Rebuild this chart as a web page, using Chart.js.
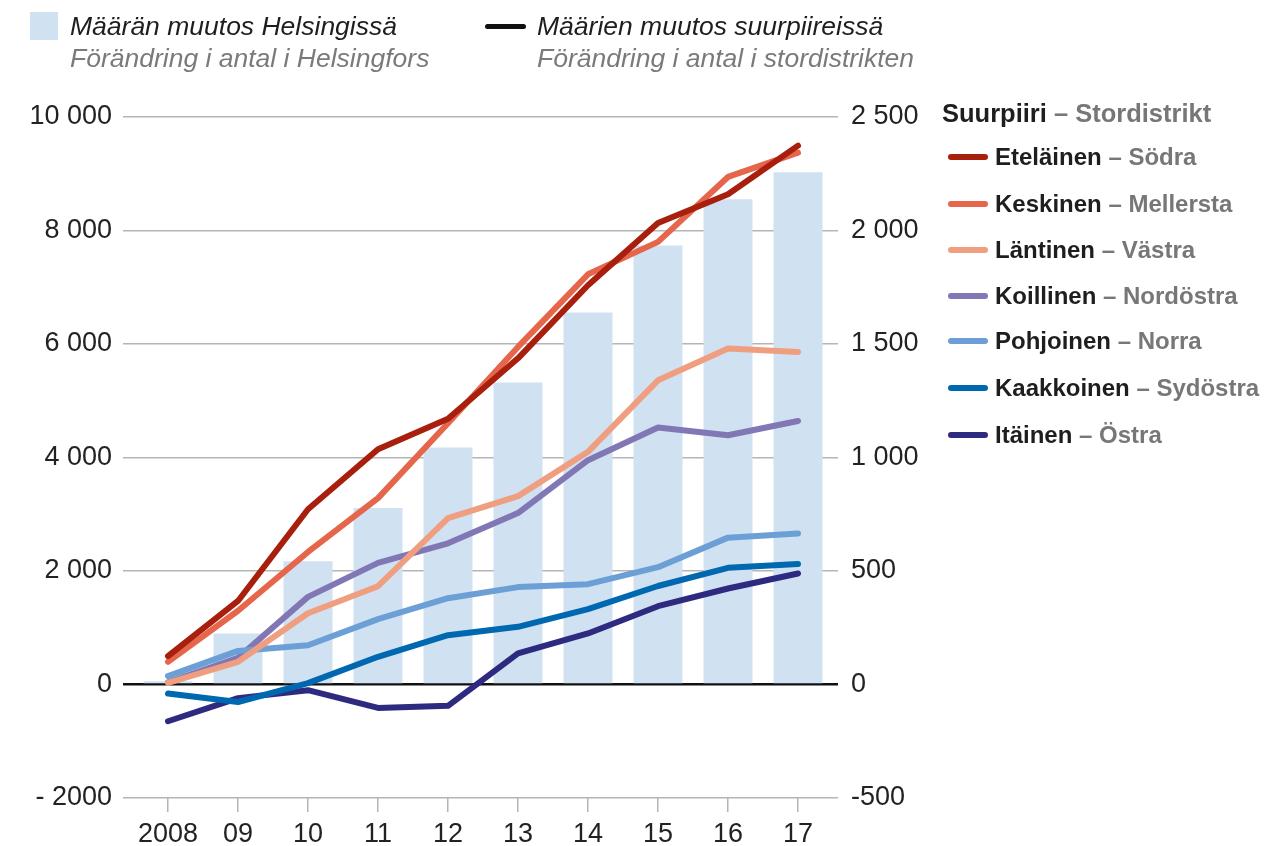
<!DOCTYPE html>
<html><head><meta charset="utf-8">
<script src="https://cdn.jsdelivr.net/npm/chart.js@4.4.1/dist/chart.umd.min.js"></script>
<style>
body{margin:0;background:#fff;font-family:"Liberation Sans",Arial,sans-serif;}
#wrap{position:relative;width:1265px;height:846px;overflow:hidden;}
#c{position:absolute;left:0;top:0;}
.top{position:absolute;font-style:italic;font-size:26.5px;line-height:32px;white-space:nowrap;}
.l1{color:#1e1e1e}
.l2{color:#7a7a7a}
.swbox{position:absolute;left:30px;top:12px;width:28px;height:28px;background:#d0e1f2;}
.swline{position:absolute;left:485px;top:24px;width:41px;height:5px;background:#111;border-radius:3px;}
.rl{position:absolute;font-size:24px;font-weight:bold;white-space:nowrap;line-height:30px;color:#1e1e1e;}
.hdr{font-size:25.5px;}
.g{color:#777}
.rsw{position:absolute;left:948px;width:40px;height:6px;border-radius:3px;}
</style>
</head><body>
<div id="wrap">
<canvas id="c" width="1265" height="846"></canvas>
<div class="swbox"></div>
<div class="top" style="left:70px;top:10px;"><div class="l1">Määrän muutos Helsingissä</div><div class="l2">Förändring i antal i Helsingfors</div></div>
<div class="swline"></div>
<div class="top" style="left:537px;top:10px;"><div class="l1">Määrien muutos suurpiireissä</div><div class="l2">Förändring i antal i stordistrikten</div></div>
<div class="rl hdr" style="left:942px;top:98px;">Suurpiiri <span class="g">– Stordistrikt</span></div>
<div id="rlegend"></div>
</div>
<script>
const categories = ['2008','09','10','11','12','13','14','15','16','17'];
const helsinki   = [58, 899, 2173, 3112, 4176, 5321, 6555, 7735, 8551, 9027];
const etelainen  = [125, 368, 772, 1036, 1171, 1437, 1759, 2033, 2160, 2374];
const keskinen   = [100, 325, 584, 821, 1151, 1487, 1807, 1950, 2236, 2343];
const lantinen   = [7, 100, 314, 433, 733, 830, 1025, 1340, 1480, 1465];
const koillinen  = [10, 118, 386, 536, 622, 755, 988, 1132, 1098, 1161];
const pohjoinen  = [37, 148, 173, 288, 380, 429, 442, 517, 647, 665];
const kaakkoinen = [-40, -77, 6, 122, 217, 254, 332, 434, 514, 531];
const itainen    = [-162, -60, -25, -103, -94, 137, 225, 345, 423, 489];
const leftTicks  = ['- 2000','0','2 000','4 000','6 000','8 000','10 000'];
const rightTicks = ['-500','0','500','1 000','1 500','2 000','2 500'];
const namesFi = ['Eteläinen','Keskinen','Läntinen','Koillinen','Pohjoinen','Kaakkoinen','Itäinen'];
const namesSv = ['Södra','Mellersta','Västra','Nordöstra','Norra','Sydöstra','Östra'];
const colors = ['#a8200d','#e5664a','#f09e80','#8277b5','#6c9fd6','#0068b1','#2e2a80'];
const series = [etelainen, keskinen, lantinen, koillinen, pohjoinen, kaakkoinen, itainen];
const drawOrder = [1,2,3,5,4,6,7];

const rl = document.getElementById('rlegend');
const legendY = [157, 203.5, 249.5, 295.5, 341, 388, 435];
namesFi.forEach((n,i)=>{
  const sw = document.createElement('div');
  sw.className='rsw'; sw.style.top=(legendY[i]-3)+'px'; sw.style.background=colors[i];
  rl.appendChild(sw);
  const t = document.createElement('div');
  t.className='rl'; t.style.left='995px'; t.style.top=(legendY[i]-15)+'px';
  t.innerHTML = n + ' <span class="g">– ' + namesSv[i] + '</span>';
  rl.appendChild(t);
});

const tickFont = {family:'"Liberation Sans", Arial, sans-serif', size:27};
const gridGray = '#b5b5b5';

const datasets = [{
  type:'bar', label:'Helsinki', data: helsinki, yAxisID:'yL',
  backgroundColor:'#d0e1f2', borderWidth:0, categoryPercentage:1.0, barPercentage:0.7, order:10
}];
series.forEach((s,i)=>{
  datasets.push({type:'line', label:namesFi[i], data:s, yAxisID:'yR', borderColor:colors[i],
    borderWidth:6, pointRadius:0, borderCapStyle:'round', borderJoinStyle:'round', tension:0, order:drawOrder[i]});
});

new Chart(document.getElementById('c'), {
  data:{labels:categories, datasets},
  options:{
    responsive:false, animation:false,
    layout:{padding:{top:117,left:0,right:0,bottom:0}},
    plugins:{legend:{display:false}, tooltip:{enabled:false}},
    scales:{
      x:{type:'category', offset:true,
        border:{display:false},
        grid:{offset:false, drawOnChartArea:false, drawTicks:true, tickLength:14, color:gridGray, lineWidth:1.5},
        ticks:{font:tickFont, color:'#222', padding:6, maxRotation:0, autoSkip:false},
        afterFit:(s)=>{s.height=48;}
      },
      yL:{type:'linear', position:'left', min:-2000, max:10000,
        border:{display:false},
        grid:{color:(c)=>c.tick && c.tick.value===0?'#111':gridGray, lineWidth:(c)=>c.tick && c.tick.value===0?2.5:1.5, tickLength:10},
        ticks:{stepSize:2000, font:tickFont, color:'#222', padding:11, callback:(v,i)=>leftTicks[i]},
        afterFit:(s)=>{s.width=133;}
      },
      yR:{type:'linear', position:'right', min:-500, max:2500,
        border:{display:false},
        grid:{drawOnChartArea:false, color:(c)=>c.tick && c.tick.value===0?'#111':gridGray, lineWidth:(c)=>c.tick && c.tick.value===0?2.5:1.5, tickLength:5},
        ticks:{stepSize:500, font:tickFont, color:'#222', padding:13, callback:(v,i)=>rightTicks[i]},
        afterFit:(s)=>{s.width=432;}
      }
    }
  }
});
</script>
</body></html>
